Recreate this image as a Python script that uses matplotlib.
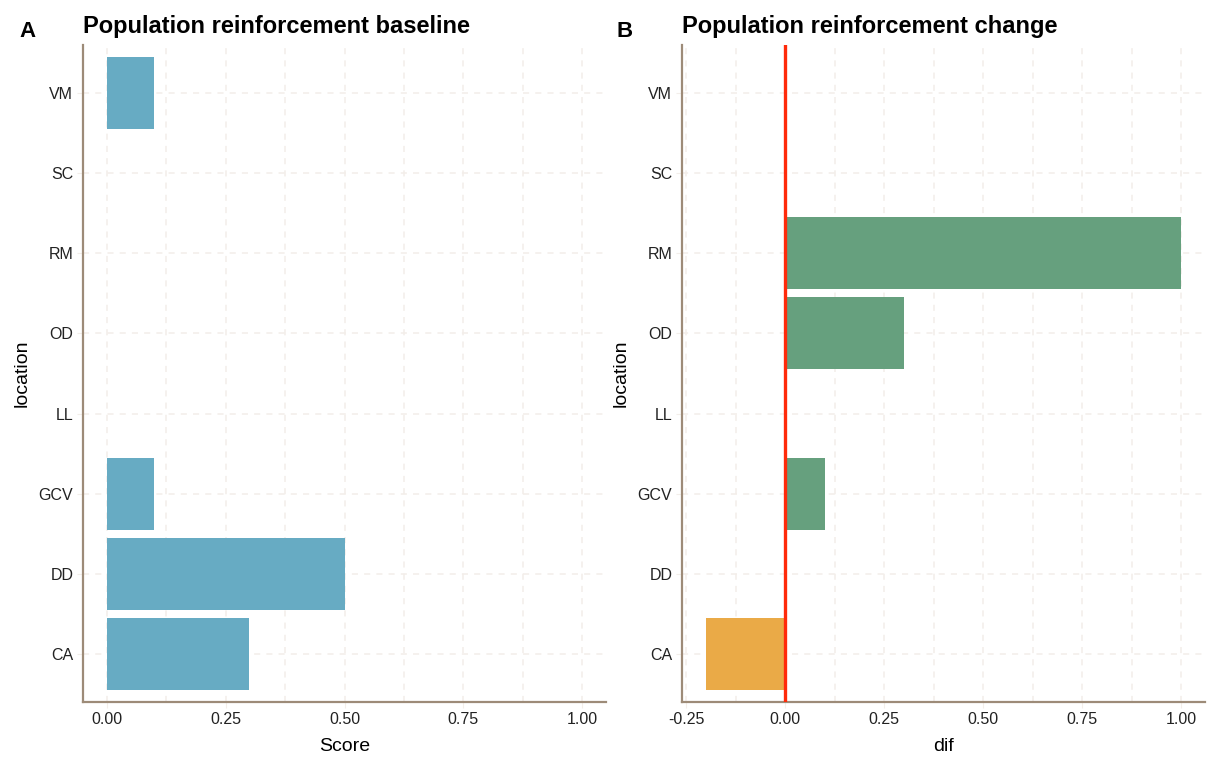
import matplotlib
matplotlib.use('Agg')
import matplotlib.pyplot as plt
import numpy as np

plt.rcParams['font.family'] = ['Liberation Sans', 'DejaVu Sans']

locations = ['CA', 'DD', 'GCV', 'LL', 'OD', 'RM', 'SC', 'VM']
baseline_score = [0.3, 0.5, 0.1, 0.0, 0.0, 0.0, 0.0, 0.1]
score_change = [-0.2, 0.0, 0.1, 0.0, 0.3, 1.0, 0.0, 0.0]
x_ticks = [0.0, 0.25, 0.5, 0.75, 1.0]
x_ticks_change = [-0.25, 0.0, 0.25, 0.5, 0.75, 1.0]

BLUE = '#67abc3'
GREEN = '#66a07e'
ORANGE = '#eaaa47'
RED = '#ff2a0a'
AXIS_COL = '#9d8b78'
GRID_COL = '#f3eeea'


def style_axes(ax, xticks, xlim):
    """
    Gives an axes the look of a minimal ggplot theme with dashed grid lines
    """
    ypos = np.arange(1, len(locations) + 1)
    ax.set_yticks(ypos)
    ax.set_yticklabels(locations)
    ax.set_ylim(0.4, len(locations) + 0.6)
    ax.set_xticks(xticks)
    ax.set_xticklabels(['{:.2f}'.format(t) for t in xticks])
    minor = [(a + b) / 2 for a, b in zip(xticks[:-1], xticks[1:])]
    ax.set_xticks(minor, minor=True)
    ax.set_xlim(*xlim)

    ax.grid(True, which='both', axis='x', color=GRID_COL, linestyle=(0, (4, 4)), linewidth=1.1)
    ax.grid(True, which='major', axis='y', color=GRID_COL, linestyle=(0, (4, 4)), linewidth=1.1)
    ax.set_axisbelow(True)

    for side in ['top', 'right']:
        ax.spines[side].set_visible(False)
    for side in ['left', 'bottom']:
        ax.spines[side].set_color(AXIS_COL)
        ax.spines[side].set_linewidth(1.6)

    ax.tick_params(axis='both', which='major', length=4.5, color=GRID_COL, labelsize=11.5,
                   labelcolor='#222222', pad=2.5)
    ax.tick_params(axis='x', which='minor', length=0)


fig = plt.figure(figsize=(12.08, 7.58), dpi=100)
ax1 = fig.add_axes([0.0687, 0.0739, 0.433, 0.8667])
ax2 = fig.add_axes([0.5646, 0.0739, 0.433, 0.8667])

ypos = np.arange(1, len(locations) + 1)

# Panel A: baseline scores
ax1.barh(ypos, baseline_score, height=0.9, color=BLUE, linewidth=0)
style_axes(ax1, x_ticks, (-0.05, 1.05))
ax1.set_xlabel('Score', fontsize=14, labelpad=8)
ax1.set_ylabel('location', fontsize=14, labelpad=6)
ax1.set_title('Population reinforcement baseline', fontsize=17, fontweight='bold',
              loc='left', pad=9)

# Panel B: change in scores, negative values in orange
change_colors = [ORANGE if v < 0 else GREEN for v in score_change]
ax2.barh(ypos, score_change, height=0.9, color=change_colors, linewidth=0)
ax2.axvline(0, color=RED, linewidth=2.4, zorder=3)
style_axes(ax2, x_ticks_change, (-0.26, 1.06))
ax2.set_xlabel('dif', fontsize=14, labelpad=8)
ax2.set_ylabel('location', fontsize=14, labelpad=6)
ax2.set_title('Population reinforcement change', fontsize=17, fontweight='bold',
              loc='left', pad=9)

fig.text(0.016, 0.958, 'A', fontsize=16, fontweight='bold', va='center')
fig.text(0.510, 0.958, 'B', fontsize=16, fontweight='bold', va='center')

fig.savefig('out.png', dpi=100)
